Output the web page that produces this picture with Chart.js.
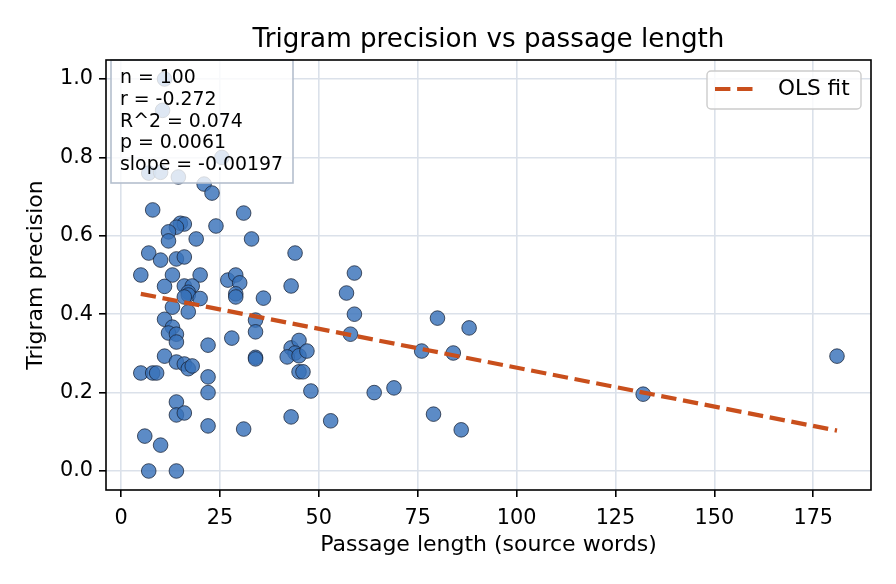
<!DOCTYPE html>
<html>
<head>
<meta charset="utf-8">
<script src="https://cdn.jsdelivr.net/npm/chart.js@4"></script>
<style>
html, body { margin: 0; padding: 0; background: #fff; }
#wrap { width: 896px; height: 584px; }
</style>
</head>
<body>
<div id="wrap"><canvas id="chart" width="896" height="584"></canvas></div>
<script>
// source words per passage
const passageLen = [11, 10.5, 7, 10, 14.5, 25.5, 21, 23, 8, 31, 15, 16, 14, 12, 24, 12, 19, 33,
    7, 10, 14, 16, 5, 13, 20, 11, 16, 18, 17, 17, 16, 20, 27, 29, 30, 29, 29, 36, 13, 17,
    11, 34, 13, 12, 14, 14, 22, 28, 34, 34, 34, 11, 14, 16, 17, 18, 5, 8, 9, 22, 22, 14,
    14, 16, 22, 31, 6, 10, 7, 14, 59, 44, 43, 57, 59, 58, 43, 45, 44, 42, 45, 47, 45, 46,
    48, 64, 69, 43, 53, 80, 88, 76, 84, 79, 86, 132, 181];
// trigram precision per passage
const trigramPrec = [1.0, 0.92, 0.76, 0.762, 0.75, 0.8, 0.732, 0.709, 0.666, 0.658, 0.632, 0.63,
    0.622, 0.61, 0.625, 0.587, 0.592, 0.592, 0.556, 0.538, 0.541, 0.546, 0.5, 0.5, 0.5,
    0.471, 0.472, 0.472, 0.456, 0.449, 0.444, 0.44, 0.487, 0.5, 0.48, 0.452, 0.444, 0.441,
    0.418, 0.406, 0.387, 0.385, 0.367, 0.352, 0.349, 0.329, 0.321, 0.339, 0.355, 0.29,
    0.286, 0.293, 0.278, 0.273, 0.261, 0.268, 0.25, 0.25, 0.25, 0.24, 0.2, 0.176, 0.143,
    0.148, 0.115, 0.107, 0.089, 0.066, 0.0, 0.0, 0.505, 0.556, 0.472, 0.454, 0.4, 0.349,
    0.314, 0.333, 0.301, 0.291, 0.294, 0.306, 0.253, 0.253, 0.204, 0.2, 0.212, 0.138,
    0.128, 0.39, 0.365, 0.306, 0.301, 0.145, 0.105, 0.196, 0.293];

// OLS fit line end points
const fitX = [5, 181];
const fitY = [0.452, 0.103];

const xTicks = [0, 25, 50, 75, 100, 125, 150, 175];
const yTicks = [0, 0.2, 0.4, 0.6, 0.8, 1.0];
const statLines = ["n = 100", "r = -0.272", "R^2 = 0.074", "p = 0.0061", "slope = -0.00197"];

const FONT = "DejaVu Sans";
const fitColor = "#c94f1c";
const gridColor = "#dbe1ea";

function roundRect(ctx, x, y, w, h, r) {
    ctx.beginPath();
    ctx.moveTo(x + r, y);
    ctx.lineTo(x + w - r, y);
    ctx.arcTo(x + w, y, x + w, y + r, r);
    ctx.lineTo(x + w, y + h - r);
    ctx.arcTo(x + w, y + h, x + w - r, y + h, r);
    ctx.lineTo(x + r, y + h);
    ctx.arcTo(x, y + h, x, y + h - r, r);
    ctx.lineTo(x, y + r);
    ctx.arcTo(x, y, x + r, y, r);
    ctx.closePath();
}

const decorPlugin = {
    id: "decor",
    afterDraw(chart) {
        const ctx = chart.ctx;
        const a = chart.chartArea;
        ctx.save();

        // stats box
        ctx.fillStyle = "rgba(255,255,255,0.8)";
        ctx.strokeStyle = "#b4bfcd";
        ctx.lineWidth = 1.6;
        ctx.fillRect(111, 60, 182, 123);
        ctx.strokeRect(111, 60, 182, 123);
        ctx.fillStyle = "#000";
        ctx.font = "18.9px '" + FONT + "'";
        ctx.textAlign = "left";
        ctx.textBaseline = "alphabetic";
        statLines.forEach((line, i) => {
            ctx.fillText(line, 120, 83 + i * 21.75);
        });

        // legend
        roundRect(ctx, 707, 71, 154, 38, 4);
        ctx.fillStyle = "rgba(255,255,255,0.8)";
        ctx.fill();
        ctx.strokeStyle = "#cccccc";
        ctx.lineWidth = 1.4;
        ctx.stroke();
        ctx.beginPath();
        ctx.setLineDash([15.4, 6.7]);
        ctx.strokeStyle = fitColor;
        ctx.lineWidth = 4.2;
        ctx.moveTo(715, 89);
        ctx.lineTo(753, 89);
        ctx.stroke();
        ctx.setLineDash([]);
        ctx.fillStyle = "#000";
        ctx.font = "21.6px '" + FONT + "'";
        ctx.textBaseline = "middle";
        ctx.fillText("OLS fit", 778, 89);

        // spines
        ctx.strokeStyle = "#000";
        ctx.lineWidth = 1.6;
        ctx.strokeRect(a.left, a.top, a.right - a.left, a.bottom - a.top);

        // title and axis labels
        ctx.fillStyle = "#000";
        ctx.textAlign = "center";
        ctx.textBaseline = "alphabetic";
        ctx.font = "26.2px '" + FONT + "'";
        ctx.fillText("Trigram precision vs passage length", (a.left + a.right) / 2, 47);
        ctx.font = "22px '" + FONT + "'";
        ctx.fillText("Passage length (source words)", (a.left + a.right) / 2, 551);
        ctx.translate(42, (a.top + a.bottom) / 2);
        ctx.rotate(-Math.PI / 2);
        ctx.fillText("Trigram precision", 0, 0);
        ctx.restore();
    }
};

const points = passageLen.map((x, i) => ({ x: x, y: trigramPrec[i] }));
const fitPoints = fitX.map((x, i) => ({ x: x, y: fitY[i] }));

const axisCommon = {
    type: "linear",
    grid: {
        color: gridColor,
        lineWidth: 1.6,
        tickColor: "#000",
        tickLength: 7,
        tickWidth: 1.6
    },
    border: { display: false },
    ticks: {
        color: "#000",
        font: { family: FONT, size: 20.8 },
        maxRotation: 0,
        autoSkip: false
    }
};

new Chart(document.getElementById("chart").getContext("2d"), {
    type: "scatter",
    data: {
        datasets: [
            {
                type: "line",
                label: "OLS fit",
                data: fitPoints,
                borderColor: fitColor,
                borderWidth: 4.2,
                borderDash: [15.4, 6.7],
                pointRadius: 0,
                fill: false,
                tension: 0
            },
            {
                label: "passages",
                data: points,
                pointRadius: 7.3,
                pointHoverRadius: 7.3,
                backgroundColor: "rgba(56,114,186,0.82)",
                borderColor: "rgba(25,35,55,0.85)",
                borderWidth: 0.9
            }
        ]
    },
    options: {
        responsive: false,
        animation: false,
        devicePixelRatio: 1,
        layout: { padding: { left: 0, right: 25, top: 60, bottom: 0 } },
        plugins: {
            legend: { display: false },
            title: { display: false },
            tooltip: { enabled: false }
        },
        scales: {
            x: Object.assign({}, axisCommon, {
                min: -3.8,
                max: 189.6,
                ticks: Object.assign({}, axisCommon.ticks, {
                    padding: 9,
                    callback: (v) => String(v)
                }),
                afterBuildTicks: (s) => { s.ticks = xTicks.map((v) => ({ value: v })); },
                afterFit: (s) => { s.height = 94; }
            }),
            y: Object.assign({}, axisCommon, {
                min: -0.0485,
                max: 1.0485,
                ticks: Object.assign({}, axisCommon.ticks, {
                    padding: 6,
                    callback: (v) => v.toFixed(1)
                }),
                afterBuildTicks: (s) => { s.ticks = yTicks.map((v) => ({ value: v })); },
                afterFit: (s) => { s.width = 106; }
            })
        }
    },
    plugins: [decorPlugin]
});
</script>
</body>
</html>
